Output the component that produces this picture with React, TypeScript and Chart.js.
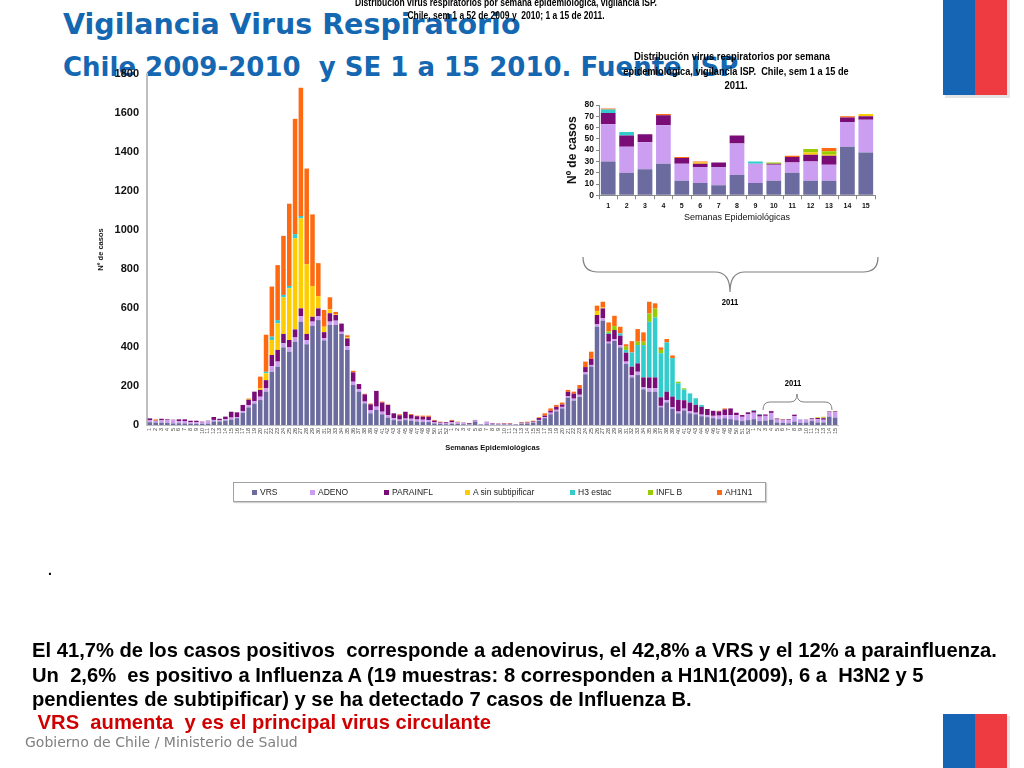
import React, { useEffect, useRef } from "react";
import { Chart, registerables } from "chart.js";

Chart.register(...registerables);

// ---------- tick labels ----------
const WEEKS_FULL_YEAR = [
  "1","2","3","4","5","6","7","8","9","10","11","12","13","14","15","16","17","18","19","20",
  "21","22","23","24","25","26","27","28","29","30","31","32","33","34","35","36","37","38","39","40",
  "41","42","43","44","45","46","47","48","49","50","51","52",
];
const WEEKS_2011 = ["1","2","3","4","5","6","7","8","9","10","11","12","13","14","15"];

// ---------- series ----------
const SERIES_NAMES = ["VRS", "ADENO", "PARAINFL", "A sin subtipificar", "H3 estac", "INFL B", "AH1N1"];
const SERIES_COLORS = ["#6B6B9F", "#CC9EF2", "#7A0C78", "#FFCC00", "#33CCCC", "#99CC00", "#FF6A10"];

// 2009, weeks 1-52
const VRS_2009 = [14,13,12,10,8,9,8,7,6,6, 7,18,18,22,28,35,63,90,110,128, 171,273,299,398,376,427,530,414,509,538, 434,513,513,467,385,205,171,111,60,77, 55,38,25,20,25,22,18,15,15,8, 6,4];
const ADENO_2009 = [10,8,12,14,16,10,11,7,8,7, 12,8,6,8,10,5,8,12,12,17, 17,29,26,21,22,22,29,22,21,21, 12,17,22,11,20,17,12,9,17,17, 13,13,10,8,8,10,10,12,10,6, 5,4];
const PARA_2009 = [10,2,8,5,3,10,10,8,8,4, 3,15,8,13,30,25,32,28,49,35, 42,57,60,48,38,41,39,31,25,39, 30,43,29,42,39,48,27,37,29,81, 47,52,25,22,35,20,17,15,17,8, 3,6];
const ASIN_2009 = [0,3,0,0,0,0,0,0,0,0, 0,0,0,0,0,0,0,5,0,8, 35,77,136,188,265,467,462,358,158,63, 28,20,4,0,6,0,0,0,0,0, 0,0,0,0,0,0,0,0,0,0, 0,0];
const H3_2009 = [0,0,0,0,0,0,0,0,0,0, 0,0,0,0,0,0,0,0,0,0, 8,17,17,12,12,22,12,0,0,0, 0,0,0,0,0,0,0,0,0,0, 0,0,0,0,0,0,0,0,0,0, 0,0];
const B_2009 = [0,0,0,0,0,0,0,0,0,0, 0,0,0,0,0,0,0,0,0,0, 0,0,0,0,0,0,0,0,0,0, 0,0,0,0,0,0,0,0,0,0, 0,0,0,0,0,0,0,0,0,0, 0,0];
const AH1N1_2009 = [0,3,0,0,0,0,0,0,0,0, 0,0,0,0,0,0,0,2,0,60, 190,257,282,303,422,591,658,490,367,169, 86,62,12,0,10,8,0,3,4,0, 5,2,0,5,0,4,3,6,6,4, 3,0];

// 2010, weeks 1-52
const VRS_2010 = [6,5,4,3,18,2,4,3,2,3, 3,2,6,8,12,22,35,55,70,85, 140,125,145,260,300,504,535,419,431,398, 313,244,256,183,171,171,91,116,82,60, 75,60,55,45,40,35,30,35,30,25, 20,25];
const ADENO_2010 = [8,8,5,2,5,2,12,3,2,2, 2,2,3,3,3,4,5,8,8,8, 8,10,10,10,8,12,12,8,9,12, 12,12,17,10,17,17,7,12,9,9, 9,10,8,8,10,12,18,15,20,25, 22,30];
const PARA_2010 = [8,2,3,4,3,1,1,3,3,2, 2,1,3,2,3,10,8,10,15,12, 22,26,32,27,31,48,51,40,47,48, 46,43,43,51,56,56,44,43,55,60, 43,45,40,40,32,26,22,30,35,13, 9,10];
const ASIN_2010 = [0,0,0,0,0,0,0,0,0,0, 0,0,0,0,0,0,0,0,0,0, 0,0,0,0,0,21,5,0,0,0, 0,0,0,0,0,0,0,0,0,0, 0,0,0,0,0,0,0,0,0,0, 0,0];
const H3_2010 = [0,0,0,0,0,0,0,0,0,0, 0,0,0,0,0,0,0,0,0,0, 0,0,0,0,0,0,0,5,0,12, 14,73,94,166,285,307,226,253,197,85, 55,47,34,10,0,0,0,0,0,0, 0,0];
const B_2010 = [0,0,0,0,0,0,0,0,0,0, 0,0,0,0,0,0,0,0,0,0, 0,0,0,0,0,0,0,8,20,0, 17,0,17,17,43,46,17,0,0,8, 6,0,0,0,0,0,0,0,0,0, 0,0];
const AH1N1_2010 = [4,2,0,0,0,0,0,0,0,2, 2,0,3,4,4,3,12,12,10,10, 10,10,18,28,37,27,29,46,53,34, 12,58,65,48,60,27,13,17,14,0, 0,0,0,0,0,0,3,5,0,0, 0,0];

// 2011, weeks 1-15 (also the inset chart)
const VRS_2011 = [30,20,23,28,13,11,9,18,11,13,20,13,13,43,38];
const ADENO_2011 = [33,23,24,34,15,14,16,28,17,14,9,17,14,22,29];
const PARA_2011 = [10,10,7,9,5,3,4,7,0,1,5,6,8,4,3];
const ASIN_2011 = [0,0,0,0,0,1,0,0,0,0,0,2,1,0,2];
const H3_2011 = [3,3,0,0,0,0,0,0,2,0,0,0,0,0,0];
const B_2011 = [0,0,0,0,0,0,0,0,0,1,0,3,3,0,0];
const AH1N1_2011 = [1,0,0,1,1,1,0,0,0,0,1,0,3,1,0];

const BY_YEAR = [
  [VRS_2009, VRS_2010, VRS_2011],
  [ADENO_2009, ADENO_2010, ADENO_2011],
  [PARA_2009, PARA_2010, PARA_2011],
  [ASIN_2009, ASIN_2010, ASIN_2011],
  [H3_2009, H3_2010, H3_2011],
  [B_2009, B_2010, B_2011],
  [AH1N1_2009, AH1N1_2010, AH1N1_2011],
];

const FONT = "'Liberation Sans', Arial, Helvetica, sans-serif";
const plain = (v: any) => String(v);

function mainConfig(): any {
  return {
    type: "bar",
    data: {
      labels: [...WEEKS_FULL_YEAR, ...WEEKS_FULL_YEAR, ...WEEKS_2011],
      datasets: SERIES_NAMES.map((name, i) => ({
        label: name,
        data: [...BY_YEAR[i][0], ...BY_YEAR[i][1], ...BY_YEAR[i][2]],
        backgroundColor: SERIES_COLORS[i],
        borderWidth: 0,
        barPercentage: 0.78,
        categoryPercentage: 1,
      })),
    },
    options: {
      responsive: false,
      animation: false,
      layout: { padding: { left: 92, top: 74, right: 22, bottom: 14 } },
      plugins: { legend: { display: false }, title: { display: false }, tooltip: { enabled: false } },
      scales: {
        x: {
          stacked: true,
          grid: { display: false, drawTicks: false },
          border: { display: true, color: "#BFBFBF", width: 1 },
          ticks: {
            autoSkip: false,
            minRotation: 90,
            maxRotation: 90,
            padding: 3,
            color: "#444",
            font: { size: 5.5, family: FONT },
          },
          title: {
            display: true,
            text: "Semanas Epidemiológicas",
            color: "#111",
            font: { size: 7.5, weight: "bold", family: FONT },
            padding: { top: 0, bottom: 4 },
          },
          afterFit: (s: any) => { s.height = 31; },
        },
        y: {
          stacked: true,
          min: 0,
          max: 1800,
          grid: { display: false, drawTicks: false },
          border: { display: true, color: "#BFBFBF", width: 2 },
          ticks: {
            stepSize: 200,
            autoSkip: false,
            padding: 8,
            color: "#111",
            font: { size: 11, weight: "bold", family: FONT },
            callback: plain,
          },
          title: {
            display: true,
            text: "Nº de casos",
            color: "#111",
            font: { size: 7.5, weight: "bold", family: FONT },
            padding: { top: 4, bottom: 0 },
          },
          afterFit: (s: any) => { s.width = 55; },
        },
      },
    },
  };
}

function insetConfig(): any {
  return {
    type: "bar",
    data: {
      labels: WEEKS_2011,
      datasets: SERIES_NAMES.map((name, i) => ({
        label: name,
        data: BY_YEAR[i][2],
        backgroundColor: SERIES_COLORS[i],
        borderWidth: 0,
        barPercentage: 0.8,
        categoryPercentage: 1,
      })),
    },
    options: {
      responsive: false,
      animation: false,
      layout: { padding: { left: 21, top: 65, right: 15, bottom: 2.6 } },
      plugins: { legend: { display: false }, title: { display: false }, tooltip: { enabled: false } },
      scales: {
        x: {
          stacked: true,
          grid: { display: true, drawOnChartArea: false, drawTicks: true, tickLength: 4, color: "#888" },
          border: { display: true, color: "#888", width: 1 },
          ticks: { autoSkip: false, padding: 3, color: "#111", font: { size: 7, weight: "bold", family: FONT } },
          title: {
            display: true,
            text: "Semanas Epidemiológicas",
            color: "#111",
            font: { size: 9, family: FONT },
            padding: { top: 0, bottom: 4 },
          },
          afterFit: (s: any) => { s.height = 32.1; },
        },
        y: {
          stacked: true,
          min: 0,
          max: 80,
          grid: { display: true, drawOnChartArea: false, drawTicks: true, tickLength: 3, color: "#888" },
          border: { display: true, color: "#888", width: 1 },
          ticks: {
            stepSize: 10,
            autoSkip: false,
            padding: 2,
            color: "#111",
            font: { size: 8.5, weight: "bold", family: FONT },
            callback: plain,
          },
          title: {
            display: true,
            text: "Nº de casos",
            color: "#111",
            font: { size: 12, weight: "bold", family: FONT },
            padding: { top: 4, bottom: 0 },
          },
          afterFit: (s: any) => { s.width = 38; },
        },
      },
    },
  };
}

const LEGEND_X = [252, 310, 384, 465, 570, 648, 717];

const narrow = (left: number, top: number, size: number, text: string, scale = 0.81, extra: any = {}) => (
  <div
    style={{
      position: "absolute",
      left,
      top,
      whiteSpace: "pre",
      fontFamily: FONT,
      fontWeight: "bold",
      fontSize: size,
      lineHeight: 1,
      color: "#000",
      transform: `translateX(-50%) scaleX(${scale})`,
      ...extra,
    }}
  >
    {text}
  </div>
);

export default function App() {
  const mainRef = useRef<HTMLCanvasElement>(null);
  const insetRef = useRef<HTMLCanvasElement>(null);

  useEffect(() => {
    const c1 = new Chart(mainRef.current as HTMLCanvasElement, mainConfig());
    const c2 = new Chart(insetRef.current as HTMLCanvasElement, insetConfig());
    return () => {
      c1.destroy();
      c2.destroy();
    };
  }, []);

  const titleStyle: any = {
    position: "absolute",
    left: 63,
    whiteSpace: "pre",
    fontFamily: "'DejaVu Sans', Verdana, sans-serif",
    fontWeight: "bold",
    color: "#1467B0",
    lineHeight: 1,
  };
  const bodyStyle: any = {
    position: "absolute",
    left: 32,
    whiteSpace: "pre",
    fontFamily: FONT,
    fontWeight: "bold",
    fontSize: 20.2,
    lineHeight: "24px",
    color: "#000",
  };

  return (
    <div style={{ position: "absolute", left: 0, top: 0, width: 1024, height: 768, overflow: "hidden", background: "#fff" }}>
      {/* flags */}
      <svg width={1024} height={768} style={{ position: "absolute", left: 0, top: 0 }}>
        <rect x={945} y={0} width={65} height={98} fill="#E4E4E4" />
        <rect x={943} y={0} width={32} height={95} fill="#1565B4" />
        <rect x={975} y={0} width={32} height={95} fill="#EE3B41" />
        <rect x={945} y={716} width={65} height={52} fill="#E4E4E4" />
        <rect x={943} y={714} width={32} height={54} fill="#1565B4" />
        <rect x={975} y={714} width={32} height={54} fill="#EE3B41" />
      </svg>

      <div style={{ ...titleStyle, top: 11, fontSize: 28.5 }}>Vigilancia Virus Respiratorio</div>
      <div style={{ ...titleStyle, top: 54, fontSize: 26 }}>Chile 2009-2010  y SE 1 a 15 2010. Fuente ISP</div>

      <canvas ref={mainRef} width={860} height={470} style={{ position: "absolute", left: 0, top: 0 }} />
      <canvas ref={insetRef} width={350} height={190} style={{ position: "absolute", left: 540, top: 40 }} />

      {/* main chart title */}
      {narrow(506, -3, 10.5, "Distribución virus respiratorios por semana epidemiológica, vigilancia ISP.")}
      {narrow(506, 10, 10.5, "Chile, sem 1 a 52 de 2009 y  2010; 1 a 15 de 2011.")}

      {/* inset title */}
      {narrow(732, 51, 11.5, "Distribución virus respiratorios por semana", 0.82)}
      {narrow(736, 66, 11.5, "epidemiológica, vigilancia ISP.  Chile, sem 1 a 15 de", 0.8)}
      {narrow(736, 80, 11.5, "2011.", 0.82)}

      {/* braces */}
      <svg width={1024} height={768} style={{ position: "absolute", left: 0, top: 0, pointerEvents: "none" }}>
        <path
          d="M583,257 Q583,272 598,272 L715,272 Q730,272 730,292 Q730,272 745,272 L863,272 Q878,272 878,257"
          fill="none"
          stroke="#808080"
          strokeWidth={1.2}
        />
        <path
          d="M763,410 Q763,402 770,402 L790,402 Q797,402 797,394 Q797,402 804,402 L825,402 Q832,402 832,410"
          fill="none"
          stroke="#808080"
          strokeWidth={1}
        />
      </svg>
      {narrow(730, 298, 9, "2011", 0.85)}
      {narrow(793, 379, 9, "2011", 0.85)}

      {/* legend */}
      <div
        style={{
          position: "absolute",
          left: 233,
          top: 482,
          width: 531,
          height: 18,
          border: "1px solid #A0A0A0",
          boxShadow: "1px 1px 1px #D0D0D0",
          background: "#fff",
        }}
      />
      {SERIES_NAMES.map((name, i) => (
        <div
          key={name}
          style={{
            position: "absolute",
            left: LEGEND_X[i],
            top: 487,
            height: 10,
            display: "flex",
            alignItems: "center",
            whiteSpace: "pre",
            fontFamily: FONT,
            fontSize: 8.5,
            color: "#222",
          }}
        >
          <span style={{ display: "inline-block", width: 5, height: 5, background: SERIES_COLORS[i], marginRight: 3 }} />
          {name}
        </div>
      ))}

      <div style={{ position: "absolute", left: 48, top: 562, fontFamily: FONT, fontWeight: "bold", fontSize: 14 }}>.</div>

      <div style={{ ...bodyStyle, top: 638 }}>El 41,7% de los casos positivos  corresponde a adenovirus, el 42,8% a VRS y el 12% a parainfluenza.</div>
      <div style={{ ...bodyStyle, top: 663 }}>Un  2,6%  es positivo a Influenza A (19 muestras: 8 corresponden a H1N1(2009), 6 a  H3N2 y 5</div>
      <div style={{ ...bodyStyle, top: 687 }}>pendientes de subtipificar) y se ha detectado 7 casos de Influenza B.</div>
      <div style={{ ...bodyStyle, top: 710, color: "#D00000" }}> VRS  aumenta  y es el principal virus circulante</div>

      <div
        style={{
          position: "absolute",
          left: 25,
          top: 734,
          whiteSpace: "pre",
          fontFamily: "'DejaVu Sans', Verdana, sans-serif",
          fontSize: 14,
          color: "#808080",
        }}
      >
        Gobierno de Chile / Ministerio de Salud
      </div>
    </div>
  );
}
